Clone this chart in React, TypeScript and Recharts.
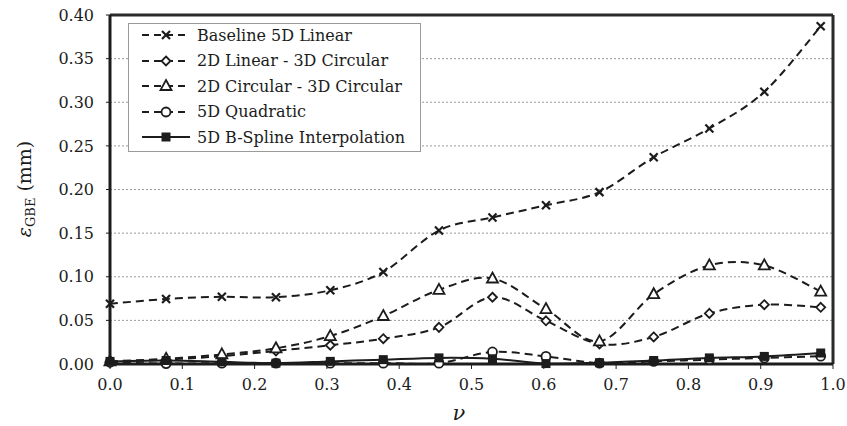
import React from 'react';
import { LineChart, Line, XAxis, YAxis, CartesianGrid, ReferenceLine } from 'recharts';

const FONT = '"DejaVu Serif", "Liberation Serif", serif';
const INK = '#1c1c1c';

const nu = [0, 0.0776, 0.1547, 0.2295, 0.3047, 0.378, 0.455, 0.529, 0.603, 0.677, 0.752, 0.829, 0.905, 0.983];
const baselineLinear = [0.069, 0.0745, 0.077, 0.0765, 0.0845, 0.1055, 0.153, 0.168, 0.182, 0.197, 0.237, 0.27, 0.312, 0.387];
const linearCircular = [0.002, 0.005, 0.009, 0.015, 0.0215, 0.029, 0.042, 0.0765, 0.0495, 0.023, 0.031, 0.058, 0.068, 0.065];
const circularCircular = [0.003, 0.006, 0.011, 0.018, 0.032, 0.055, 0.085, 0.098, 0.063, 0.026, 0.08, 0.113, 0.113, 0.083];
const quadratic = [0.002, 0.0005, 0.001, 0.001, 0.001, 0.001, 0.001, 0.0138, 0.0087, 0.001, 0.003, 0.005, 0.007, 0.009];
const bSpline = [0.003, 0.004, 0.0025, 0.001, 0.003, 0.005, 0.007, 0.006, 0.0005, 0.0015, 0.004, 0.007, 0.0087, 0.0126];

const xTicks = [0, 0.1, 0.2, 0.3, 0.4, 0.5, 0.6, 0.7, 0.8, 0.9, 1.0];
const yTicks = [0, 0.05, 0.1, 0.15, 0.2, 0.25, 0.3, 0.35, 0.4];

type Marker = 'cross' | 'diamond' | 'triangle' | 'circle' | 'square';

const series: { key: string; name: string; values: number[]; marker: Marker; dashed: boolean }[] = [
  { key: 'base', name: 'Baseline 5D Linear', values: baselineLinear, marker: 'cross', dashed: true },
  { key: 'lc', name: '2D Linear - 3D Circular', values: linearCircular, marker: 'diamond', dashed: true },
  { key: 'cc', name: '2D Circular - 3D Circular', values: circularCircular, marker: 'triangle', dashed: true },
  { key: 'quad', name: '5D Quadratic', values: quadratic, marker: 'circle', dashed: true },
  { key: 'bs', name: '5D B-Spline Interpolation', values: bSpline, marker: 'square', dashed: false },
];

const data = nu.map((x, i) => {
  const row: Record<string, number> = { x };
  series.forEach((s) => (row[s.key] = s.values[i]));
  return row;
});

// Excel-style smoothed line (Catmull-Rom as cubic beziers)
function smoothCurve(context: any) {
  let pts: number[][] = [];
  return {
    areaStart() {},
    areaEnd() {},
    lineStart() {
      pts = [];
    },
    point(x: number, y: number) {
      pts.push([+x, +y]);
    },
    lineEnd() {
      const n = pts.length;
      if (!n) return;
      context.moveTo(pts[0][0], pts[0][1]);
      for (let i = 0; i < n - 1; i++) {
        const p0 = pts[Math.max(0, i - 1)];
        const p1 = pts[i];
        const p2 = pts[i + 1];
        const p3 = pts[Math.min(n - 1, i + 2)];
        context.bezierCurveTo(
          p1[0] + (p2[0] - p0[0]) / 6,
          p1[1] + (p2[1] - p0[1]) / 6,
          p2[0] - (p3[0] - p1[0]) / 6,
          p2[1] - (p3[1] - p1[1]) / 6,
          p2[0],
          p2[1]
        );
      }
    },
  };
}

function MarkerShape({ type, cx, cy }: { type: Marker; cx: number; cy: number }) {
  if (type === 'cross') {
    const r = 4;
    return (
      <path d={`M${cx - r},${cy - r}L${cx + r},${cy + r}M${cx - r},${cy + r}L${cx + r},${cy - r}`} stroke={INK} strokeWidth={2.2} fill="none" />
    );
  }
  if (type === 'diamond') {
    const r = 4.5;
    return <path d={`M${cx},${cy - r}L${cx + r},${cy}L${cx},${cy + r}L${cx - r},${cy}Z`} stroke={INK} strokeWidth={1.8} fill="#fff" />;
  }
  if (type === 'triangle') {
    return <path d={`M${cx},${cy - 6}L${cx + 5.5},${cy + 4}L${cx - 5.5},${cy + 4}Z`} stroke={INK} strokeWidth={1.8} fill="#fff" />;
  }
  if (type === 'circle') {
    return <circle cx={cx} cy={cy} r={4.5} stroke={INK} strokeWidth={1.8} fill="#fff" />;
  }
  return <rect x={cx - 4.5} y={cy - 4.5} width={9} height={9} fill={INK} />;
}

function Legend() {
  return (
    <div
      style={{
        position: 'absolute',
        left: 128,
        top: 23,
        width: 291,
        height: 127,
        border: '1px solid #9a9a9a',
        background: '#fff',
        boxSizing: 'content-box',
        fontFamily: FONT,
        fontSize: 16,
        color: INK,
      }}
    >
      {series.map((s, i) => (
        <div key={s.key} style={{ position: 'absolute', left: 0, top: 0 + i * 25.5, height: 22, display: 'flex', alignItems: 'center', whiteSpace: 'nowrap' }}>
          <svg width={66} height={22} style={{ display: 'block' }}>
            <line x1={13} x2={61} y1={11} y2={11} stroke={INK} strokeWidth={2} strokeDasharray={s.dashed ? '7 5' : undefined} />
            <MarkerShape type={s.marker} cx={37} cy={11} />
          </svg>
          <span style={{ marginLeft: 2 }}>{s.name}</span>
        </div>
      ))}
    </div>
  );
}

export default function App() {
  return (
    <div style={{ position: 'absolute', left: 0, top: 0, width: 847, height: 426, background: '#fff' }}>
      <LineChart width={847} height={426} data={data} margin={{ top: 15, right: 14, bottom: 32, left: 0 }}>
        <CartesianGrid vertical={false} stroke="#9a9a9a" strokeDasharray="2 2" strokeWidth={1} />
        <XAxis
          dataKey="x"
          type="number"
          domain={[0, 1]}
          ticks={xTicks}
          tickFormatter={(v: number) => v.toFixed(1)}
          height={30}
          stroke={INK}
          strokeWidth={3}
          tickSize={5}
          tickMargin={10}
          tick={{ fill: INK, fontFamily: FONT, fontSize: 16 }}
          tickLine={{ stroke: INK, strokeWidth: 1 }}
          label={{
            content: () => (
              <text x={459} y={420} fontFamily={FONT} fontStyle="italic" fontSize={21} fill={INK} textAnchor="middle">
                ν
              </text>
            ),
          }}
        />
        <YAxis
          type="number"
          domain={[0, 0.4]}
          ticks={yTicks}
          tickFormatter={(v: number) => v.toFixed(2)}
          width={110}
          stroke={INK}
          strokeWidth={3}
          tickSize={4}
          tickMargin={12}
          tick={{ fill: INK, fontFamily: FONT, fontSize: 16 }}
          tickLine={{ stroke: INK, strokeWidth: 1 }}
          label={{
            content: () => (
              <text x={31} y={189} transform="rotate(-90, 31, 189)" fontFamily={FONT} fontSize={19} fill={INK} textAnchor="middle">
                <tspan fontStyle="italic">ε</tspan>
                <tspan fontSize={13} dy={4}>GBE</tspan>
                <tspan dy={-4}> (mm)</tspan>
              </text>
            ),
          }}
        />
        <ReferenceLine y={0.4} stroke="#2a2a2a" strokeWidth={3} />
        <ReferenceLine x={1} stroke="#2a2a2a" strokeWidth={3} />
        {series.map((s) => (
          <Line
            key={s.key}
            dataKey={s.key}
            name={s.name}
            type={smoothCurve as any}
            stroke={INK}
            strokeWidth={2}
            strokeDasharray={s.dashed ? '8 5' : undefined}
            isAnimationActive={false}
            dot={(p: any) => <MarkerShape key={`${s.key}-${p.index}`} type={s.marker} cx={p.cx} cy={p.cy} />}
            activeDot={false}
          />
        ))}
      </LineChart>
      <Legend />
    </div>
  );
}
